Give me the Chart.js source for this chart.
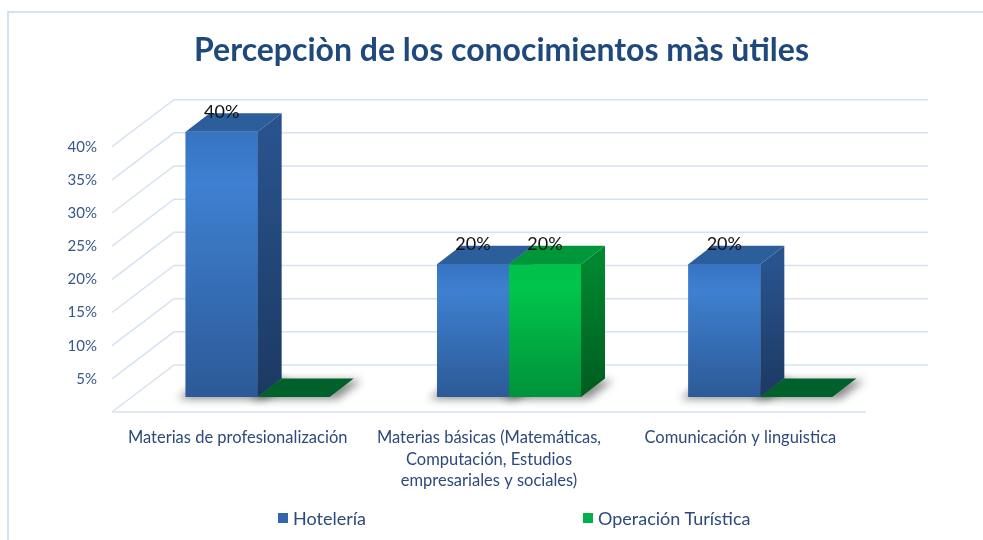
<!DOCTYPE html>
<html>
<head>
<meta charset="utf-8">
<script src="https://cdn.jsdelivr.net/npm/chart.js@4.4.1/dist/chart.umd.min.js"></script>
<style>
    html, body { margin: 0; padding: 0; background: #fff; }
    #wrap { position: relative; width: 983px; height: 540px; overflow: hidden; }
    #frame { position: absolute; left: 7px; top: 11px; width: 1000px; height: 600px;
             border-top: 2px solid #d5e1f1; border-left: 2px solid #d5e1f1; }
    #chart { position: absolute; left: 0; top: 0; }
    .legend-item { position: absolute; top: 507px; white-space: nowrap; display: flex; align-items: center;
                   font-family: Lato, sans-serif; font-size: 18px; color: #2c4a7c; height: 22px; }
    .legend-box { width: 10px; height: 10px; margin-right: 5px; }
</style>
</head>
<body>
<div id="wrap">
    <div id="frame"></div>
    <canvas id="chart" width="983" height="540"></canvas>
</div>
<script>
// Data
const categories = [
    'Materias de profesionalización',
    ['Materias básicas (Matemáticas,', 'Computación, Estudios', 'empresariales y sociales)'],
    'Comunicación y linguistica'
];
const hoteleria = [40, 20, 20];
const operacionTuristica = [0, 20, 0];
const yTicks = [0, 5, 10, 15, 20, 25, 30, 35, 40];

// 3D offsets (depth of bars, back wall, front edge)
const DX = 24, DY = -18.5;
const BACK = { x: 42, y: -32 };
const FRONT = { x: -20, y: 15 };

const palette = [
    { legend: '#3466b0', front: ['#3774c2', '#3e80d1', '#2c5a97'], side: ['#29538d', '#1c3962'], top: '#2d5e9c', flat: '#2d5e9c' },
    { legend: '#00b04c', front: ['#00c24a', '#00c44b', '#00923a'], side: ['#00872f', '#005c1f'], top: '#00973a', flat: '#00622a' }
];

function frontGradient(i) {
    return function(context) {
        const chart = context.chart;
        const y = chart.scales.y;
        if (!chart.chartArea || !y || !context.parsed) return palette[i].front[0];
        const top = y.getPixelForValue(context.parsed.y);
        const base = y.getPixelForValue(0);
        if (base - top < 1) return palette[i].front[0];
        const g = chart.ctx.createLinearGradient(0, top, 0, base);
        g.addColorStop(0, palette[i].front[0]);
        g.addColorStop(0.2, palette[i].front[1]);
        g.addColorStop(1, palette[i].front[2]);
        return g;
    };
}

function poly(ctx, pts) {
    ctx.beginPath();
    ctx.moveTo(pts[0][0], pts[0][1]);
    for (let k = 1; k < pts.length; k++) ctx.lineTo(pts[k][0], pts[k][1]);
    ctx.closePath();
    ctx.fill();
}

// Draws the walls, shadows and the 3D bars (front face by the bar element, then side and top)
const threeD = {
    id: 'threeD',
    beforeDatasetsDraw(chart) {
        const { ctx, chartArea: a, scales: { y } } = chart;
        ctx.save();
        ctx.strokeStyle = '#d6e2f2';
        ctx.lineWidth = 1.5;
        y.ticks.forEach(t => {
            const py = y.getPixelForValue(t.value);
            ctx.beginPath();
            ctx.moveTo(a.left + FRONT.x, py + FRONT.y);
            ctx.lineTo(a.left + BACK.x, py + BACK.y);
            ctx.lineTo(a.right + BACK.x, py + BACK.y);
            ctx.stroke();
        });
        const base = y.getPixelForValue(0);
        ctx.beginPath();
        ctx.moveTo(a.left + FRONT.x, base + FRONT.y);
        ctx.lineTo(a.right + FRONT.x, base + FRONT.y);
        ctx.stroke();

        // soft shadows under the bars
        ctx.filter = 'blur(4px)';
        ctx.fillStyle = 'rgba(0, 0, 0, 0.45)';
        chart.data.datasets.forEach((ds, i) => {
            chart.getDatasetMeta(i).data.forEach(bar => {
                const l = bar.x - bar.width / 2 - 8, r = bar.x + bar.width / 2 + 8;
                const b = bar.base + 2;
                poly(ctx, [[l, b], [r, b], [r + DX, b + DY], [l + DX, b + DY]]);
            });
        });
        ctx.restore();
    },
    afterDatasetsDraw(chart) {
        const { ctx } = chart;
        ctx.save();
        chart.data.datasets.forEach((ds, i) => {
            const p = palette[i];
            chart.getDatasetMeta(i).data.forEach(bar => {
                bar.draw(ctx);
                const l = bar.x - bar.width / 2, r = bar.x + bar.width / 2;
                const top = bar.y, base = bar.base;
                if (base - top > 0.5) {
                    const g = ctx.createLinearGradient(0, top, 0, base);
                    g.addColorStop(0, p.side[0]);
                    g.addColorStop(1, p.side[1]);
                    ctx.fillStyle = g;
                    poly(ctx, [[r, top], [r + DX, top + DY], [r + DX, base + DY], [r, base]]);
                    ctx.fillStyle = p.top;
                } else {
                    ctx.fillStyle = p.flat;
                }
                poly(ctx, [[l, top], [r, top], [r + DX, top + DY], [l + DX, top + DY]]);
            });
        });

        // value labels
        ctx.font = '18px Lato';
        ctx.fillStyle = '#111111';
        ctx.textAlign = 'center';
        ctx.textBaseline = 'middle';
        chart.data.datasets.forEach((ds, i) => {
            chart.getDatasetMeta(i).data.forEach((bar, j) => {
                if (ds.data[j] > 0) ctx.fillText(ds.data[j] + '%', bar.x, bar.y - 20);
            });
        });
        ctx.restore();
    }
};

const chart = new Chart(document.getElementById('chart'), {
    type: 'bar',
    data: {
        labels: categories,
        datasets: [
            {
                label: 'Hotelería',
                data: hoteleria,
                backgroundColor: frontGradient(0),
                borderWidth: 0
            },
            {
                label: 'Operación Turística',
                data: operacionTuristica,
                backgroundColor: frontGradient(1),
                borderWidth: 0
            }
        ]
    },
    options: {
        responsive: false,
        animation: false,
        categoryPercentage: 0.573,
        barPercentage: 1,
        layout: {
            padding: { left: 20, right: 0, top: 0, bottom: 43 }
        },
        plugins: {
            legend: { display: false },
            tooltip: { enabled: false },
            title: {
                display: true,
                text: 'Percepciòn de los conocimientos màs ùtiles',
                color: '#1f497d',
                font: { family: 'Lato', size: 32, weight: 'bold' },
                padding: { top: 31, bottom: 62.3 }
            }
        },
        scales: {
            x: {
                grid: { display: false },
                border: { display: false },
                ticks: {
                    color: '#2c4a7c',
                    font: { family: 'Lato', size: 16.5, lineHeight: 1.3 },
                    padding: 22,
                    labelOffset: -20,
                    maxRotation: 0,
                    autoSkip: false
                },
                afterFit: function(scale) {
                    scale.height = 100;
                }
            },
            y: {
                min: 0,
                max: 40,
                grid: { display: false },
                border: { display: false },
                afterBuildTicks: function(scale) {
                    scale.ticks = yTicks.map(v => ({ value: v }));
                },
                ticks: {
                    color: '#35578a',
                    font: { family: 'Lato', size: 15 },
                    padding: 27,
                    labelOffset: 15,
                    callback: function(value) {
                        return value === 0 ? '' : value + '%';
                    }
                },
                afterFit: function(scale) {
                    scale.width = 112;
                }
            },
            yRight: {
                position: 'right',
                grid: { display: false },
                border: { display: false },
                ticks: { display: false },
                afterFit: function(scale) {
                    scale.width = 97;
                }
            }
        }
    },
    plugins: [threeD]
});

// HTML legend built from the datasets
const legendX = [278, 583];
chart.data.datasets.forEach((ds, i) => {
    const item = document.createElement('div');
    item.className = 'legend-item';
    item.style.left = legendX[i] + 'px';
    const box = document.createElement('span');
    box.className = 'legend-box';
    box.style.background = palette[i].legend;
    item.appendChild(box);
    item.appendChild(document.createTextNode(ds.label));
    document.getElementById('wrap').appendChild(item);
});
</script>
</body>
</html>
